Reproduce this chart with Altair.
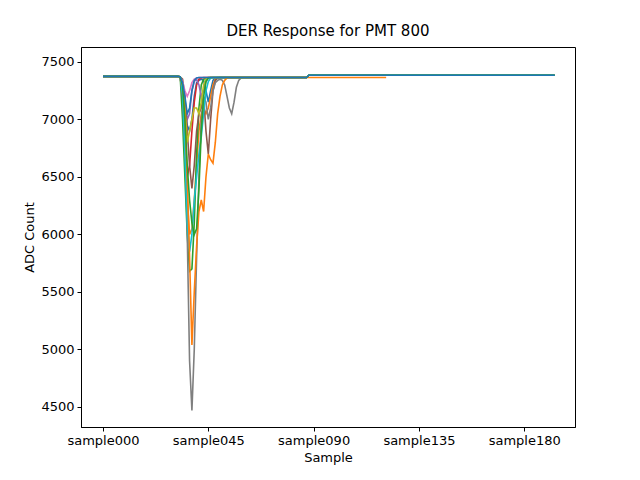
import pandas as pd
import altair as alt

# matplotlib tab10 colours, in drawing order
colors = ["#1f77b4", "#ff7f0e", "#2ca02c", "#d62728", "#9467bd", "#8c564b",
          "#e377c2", "#7f7f7f", "#bcbd22", "#17becf", "#ff7f0e", "#2ca02c", "#1f77b4"]

# pulse values, each starting at sample 33
pulses = [
    [7370, 7300, 7100, 6950, 6900, 7000, 7200, 7320, 7340, 7350, 7340, 7250, 7150, 7250, 7340, 7360],
    [7370, 7200, 6800, 6300, 6000, 6050, 6300, 6600, 6900, 7050, 7100, 7050, 7100, 7200, 7300, 7350, 7360],
    [7370, 7000, 6500, 6000, 5680, 5700, 6100, 6700, 7100, 7300, 7350, 7360],
    [7370, 7200, 6800, 6500, 6600, 6900, 7150, 7300, 7350, 7360],
    [7370, 7300, 7150, 7000, 7050, 7250, 7330, 7350, 7300, 7200, 7250, 7330, 7360],
    [7370, 7350, 7200, 6900, 6600, 6400, 6600, 6900, 7050, 7100, 7200, 6900, 6700, 7000, 7250, 7340, 7360],
    [7370, 7330, 7250, 7200, 7250, 7320, 7350, 7360],
    [7370, 7300, 7000, 6000, 4900, 4470, 5000, 5800, 6500, 7000, 7200, 7150, 7000, 7100, 7250, 7320,
     7340, 7350, 7340, 7300, 7200, 7100, 7050, 7150, 7280, 7340, 7360],
    [7370, 7300, 7100, 6800, 6900, 7000, 7100, 7100, 7050, 7150, 7300, 7350],
    [7370, 7200, 6700, 6100, 5850, 6000, 6300, 6500, 6700, 6850, 7050, 7250, 7330, 7360],
    [7370, 7300, 7100, 6500, 5800, 5040, 5500, 5900, 6200, 6300, 6200, 6500, 6700, 6650, 6620, 6800,
     7050, 7200, 7300, 7340, 7360],
    [7370, 7300, 7000, 6600, 6300, 6100, 6000, 6050, 6400, 6900, 7200, 7330, 7360],
    [7370, 7320, 7200, 7050, 7100, 7250, 7340, 7360],
]
# last sample of each trace
ends = [193, 193, 193, 193, 193, 193, 193, 193, 193, 193, 121, 193, 193]
pulse_start = 33
pre_level = 7375
post_level = 7365
late_level = 7385  # level after about sample 88

rows = []
for i, (p, end) in enumerate(zip(pulses, ends)):
    for s in range(0, end + 1):
        if s < pulse_start:
            v = pre_level
        elif s - pulse_start < len(p):
            v = p[s - pulse_start]
        elif s < 88 or end < 150:
            v = post_level
        else:
            v = late_level
        rows.append({"series": i, "sample": s, "adc": v})
df = pd.DataFrame(rows)

chart = alt.Chart(df).mark_line(strokeWidth=1.6).encode(
    x=alt.X("sample:Q", title="Sample", scale=alt.Scale(domain=[-9.4, 201.7], nice=False, zero=False),
            axis=alt.Axis(values=[0, 45, 90, 135, 180],
                          labelExpr="'sample' + (datum.value < 10 ? '00' : datum.value < 100 ? '0' : '') + datum.value")),
    y=alt.Y("adc:Q", title="ADC Count", scale=alt.Scale(domain=[4326, 7630], nice=False, zero=False),
            axis=alt.Axis(values=[4500, 5000, 5500, 6000, 6500, 7000, 7500], format="d")),
    color=alt.Color("series:N", scale=alt.Scale(range=colors), legend=None),
    order="series:Q",
).properties(
    width=494, height=380, title="DER Response for PMT 800",
    autosize=alt.AutoSizeParams(type="none"),
    padding={"left": 73, "top": 39, "right": 50, "bottom": 50},
).configure_view(stroke="black", strokeWidth=1).configure_axis(
    grid=False, domainColor="black", tickColor="black", labelColor="black", titleColor="black",
    labelFont="DejaVu Sans", titleFont="DejaVu Sans", labelFontSize=13, titleFontSize=13,
    titleFontWeight="normal", tickSize=4, labelPadding=3,
).configure_title(font="DejaVu Sans", fontSize=15, fontWeight="normal", offset=8)

chart.save("out.html", embed_options={"renderer": "svg", "actions": False})
